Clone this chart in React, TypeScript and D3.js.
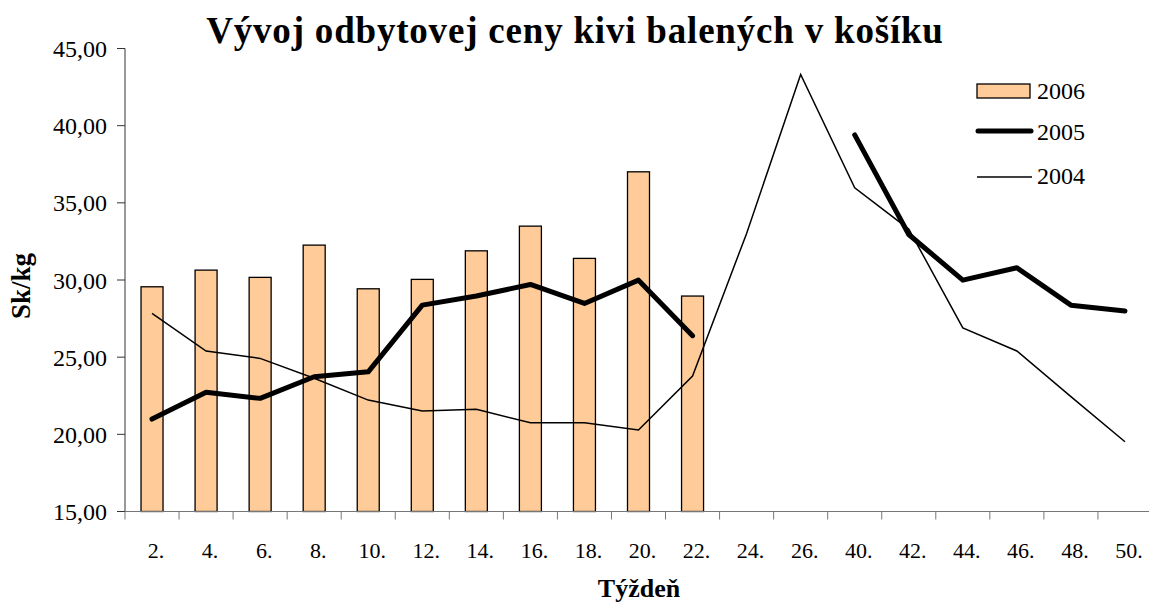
import React from "react";
import * as d3 from "d3";

// weeks on the category axis
const weeks = ["2.", "4.", "6.", "8.", "10.", "12.", "14.", "16.", "18.", "20.", "22.", "24.", "26.", "40.", "42.", "44.", "46.", "48.", "50."];

// 2006 bars (only first half of year)
const values2006: (number | null)[] = [29.56, 30.64, 30.17, 32.26, 29.43, 30.04, 31.89, 33.49, 31.4, 37.01, 28.96, null, null, null, null, null, null, null, null];

// 2005 thick line
const values2005: (number | null)[] = [20.99, 22.72, 22.33, 23.73, 24.05, 28.37, 28.96, 29.71, 28.48, 29.99, 26.39, null, null, 39.4, 32.95, 29.99, 30.79, 28.37, 27.99];

// 2004 thin line
const values2004: (number | null)[] = [27.84, 25.4, 24.92, 23.63, 22.22, 21.51, 21.62, 20.75, 20.75, 20.28, 23.78, 33.02, 43.32, 35.97, 33.3, 26.9, 25.4, 22.44, 19.52];

const yTicks = [15, 20, 25, 30, 35, 40, 45];

const W = 1149;
const H = 605;
const margin = { top: 48.5, right: -3, bottom: 93.5, left: 125 };
const font = "'Liberation Serif', 'Times New Roman', serif";

export default function App() {
  const innerW = W - margin.left - margin.right;
  const innerH = H - margin.top - margin.bottom;

  const x = d3.scaleBand<string>().domain(weeks).range([0, innerW]).padding(0);
  const y = d3.scaleLinear().domain([15, 45]).range([innerH, 0]);
  const fmt = (v: number) => d3.format(".2f")(v).replace(".", ",");

  const barW = 22;
  const cx = (i: number) => (x(weeks[i]) ?? 0) + x.bandwidth() / 2;

  const line = d3
    .line<number | null>()
    .defined((d) => d !== null)
    .x((_, i) => cx(i))
    .y((d) => y(d as number));

  return (
    <div style={{ position: "absolute", left: 0, top: 0 }}>
      <svg width={W} height={H} style={{ display: "block", background: "#fff" }}>
        <text
          x={575}
          y={43}
          textAnchor="middle"
          fontFamily={font}
          fontWeight="bold"
          fontSize={37}
          letterSpacing={0.8}
        >
          Vývoj odbytovej ceny kivi balených v košíku
        </text>

        <g transform={`translate(${margin.left},${margin.top})`}>
          {/* bars 2006 */}
          {values2006.map((v, i) =>
            v === null ? null : (
              <rect
                key={i}
                x={cx(i) - barW / 2}
                y={y(v)}
                width={barW}
                height={innerH - y(v)}
                fill="#FFCC99"
                stroke="#000"
                strokeWidth={1.3}
              />
            )
          )}

          {/* 2004 thin line */}
          <path d={line(values2004) ?? ""} fill="none" stroke="#000" strokeWidth={1.5} />

          {/* 2005 thick line */}
          <path
            d={line(values2005) ?? ""}
            fill="none"
            stroke="#000"
            strokeWidth={5}
            strokeLinecap="round"
            strokeLinejoin="round"
          />

          {/* y axis */}
          <line x1={0} x2={0} y1={0} y2={innerH} stroke="#333" strokeWidth={1} />
          {yTicks.map((t) => (
            <g key={t} transform={`translate(0,${y(t)})`}>
              <line x1={-8} x2={0} stroke="#333" />
              <text x={-18} dy="0.36em" textAnchor="end" fontFamily={font} fontSize={24}>
                {fmt(t)}
              </text>
            </g>
          ))}

          {/* x axis */}
          <line x1={0} x2={innerW} y1={innerH} y2={innerH} stroke="#777" strokeWidth={1.2} />
          {weeks.map((w, i) => (
            <g key={w}>
              <line
                x1={x(w) ?? 0}
                x2={x(w) ?? 0}
                y1={innerH}
                y2={innerH + 8}
                stroke="#777"
              />
              <text
                x={cx(i) + 4}
                y={innerH + 46}
                textAnchor="middle"
                fontFamily={font}
                fontSize={22}
              >
                {w}
              </text>
            </g>
          ))}
        </g>

        {/* axis titles */}
        <text x={639} y={597} textAnchor="middle" fontFamily={font} fontWeight="bold" fontSize={26}>
          Týždeň
        </text>
        <text
          transform={`translate(30,286) rotate(-90)`}
          textAnchor="middle"
          fontFamily={font}
          fontWeight="bold"
          fontSize={27}
        >
          Sk/kg
        </text>

        {/* legend */}
        <g fontFamily={font} fontSize={24}>
          <rect x={977} y={84} width={53} height={14} fill="#FFCC99" stroke="#000" strokeWidth={1.3} />
          <text x={1037} y={99}>2006</text>
          <line x1={978} x2={1031} y1={131} y2={131} stroke="#000" strokeWidth={5} strokeLinecap="round" />
          <text x={1037} y={140}>2005</text>
          <line x1={977} x2={1032} y1={177} y2={177} stroke="#000" strokeWidth={1.5} />
          <text x={1037} y={184}>2004</text>
        </g>
      </svg>
    </div>
  );
}
